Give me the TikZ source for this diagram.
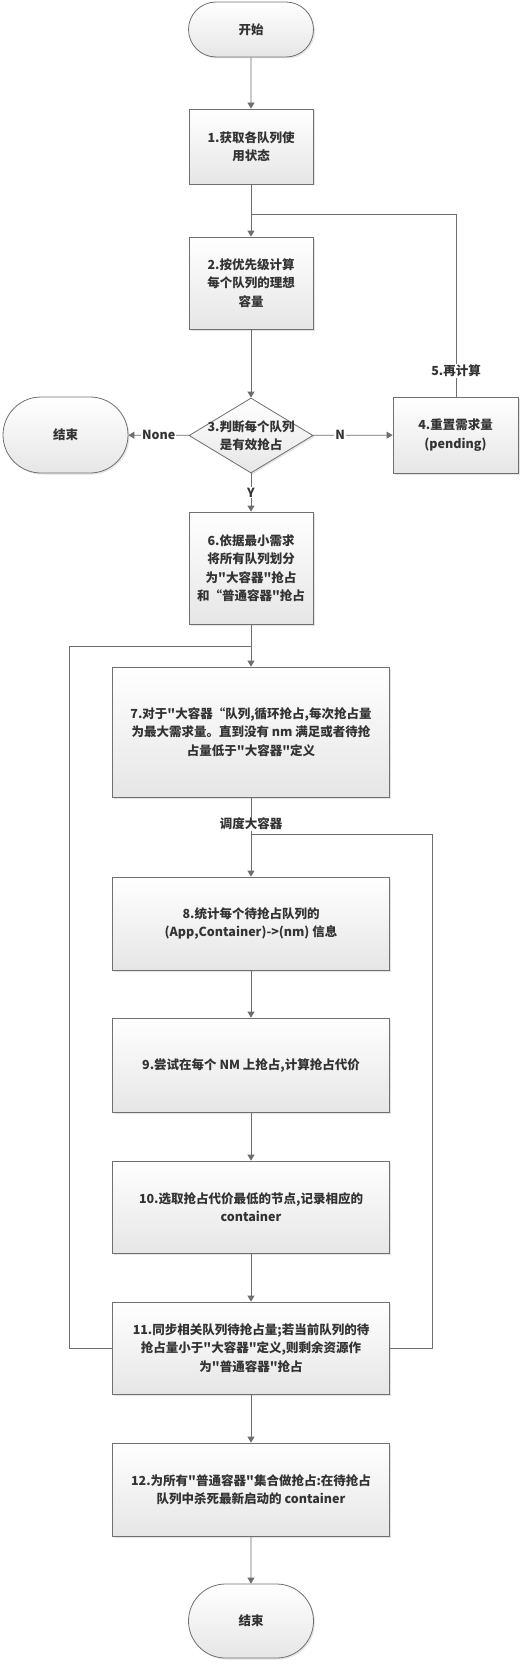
\documentclass[tikz,border=0pt]{standalone}
\usepackage{fontspec}
\newfontfamily\cjkfont{Noto Sans CJK SC}
\usetikzlibrary{arrows.meta,shapes.geometric,shapes.misc,shadows}
\definecolor{ln}{HTML}{6E6E6E}
\definecolor{bd}{HTML}{707070}
\definecolor{tx}{HTML}{333333}
\definecolor{bt}{HTML}{E6E6E6}
\tikzset{
  shade/.style={draw=bd, line width=0.8pt, top color=white, bottom color=bt,
    drop shadow={shadow xshift=1.5pt, shadow yshift=-1.5pt, opacity=0.3, fill=black!35}},
  fnt/.style={font=\cjkfont\fontsize{12.5}{18.5}\selectfont\bfseries, text=tx},
  box/.style={shade, fnt, rectangle, minimum width=124pt, align=center, inner sep=0pt},
  widebox/.style={box, minimum width=277pt},
  term/.style={box, rounded rectangle, minimum width=125pt},
  diam/.style={shade, diamond, minimum width=124pt, minimum height=75pt, inner sep=0pt},
  lab/.style={fnt, fill=white, inner sep=1pt},
  conn/.style={draw=ln, line width=0.8pt},
  arr/.style={conn, -{Triangle[length=6pt,width=7pt]}},
}
\begin{document}
\begin{tikzpicture}[x=1pt,y=-1pt]
\useasboundingbox (0,0) rectangle (523,1664);
\fill[white] (0,0) rectangle (523,1664);
% nodes
\node[term, minimum height=55pt] (st) at (251,29.5) {开始};
\node[box, minimum height=75pt] (b1) at (251,146.5) {1.获取各队列使\\用状态};
\node[box, minimum height=92pt] (b2) at (251,283) {2.按优先级计算\\每个队列的理想\\容量};
\node[diam] (d3) at (251,435.5) {};
\node[fnt, align=center, inner sep=0pt] (d3t) at (d3) {3.判断每个队列\\是有效抢占};
\node[term, minimum height=76pt] (e1) at (65.5,435) {结束};
\node[box, minimum width=125pt, minimum height=76pt] (b4) at (455.5,435) {4.重置需求量\\(pending)};
\node[box, minimum height=112pt] (b6) at (251,568) {6.依据最小需求\\将所有队列划分\\为"大容器"抢占\\和“普通容器"抢占};
\node[widebox, minimum height=130pt] (b7) at (251,732) {7.对于"大容器“队列,循环抢占,每次抢占量\\为最大需求量。直到没有 nm 满足或者待抢\\占量低于"大容器"定义};
\node[widebox, minimum height=93pt] (b8) at (251,923.5) {8.统计每个待抢占队列的\\(App,Container)->(nm) 信息};
\node[widebox, minimum height=94pt] (b9) at (251,1065) {9.尝试在每个 NM 上抢占,计算抢占代价};
\node[widebox, minimum height=92pt] (b10) at (251,1207) {10.选取抢占代价最低的节点,记录相应的\\container};
\node[widebox, minimum height=92pt] (b11) at (251,1348) {11.同步相关队列待抢占量;若当前队列的待\\抢占量小于"大容器"定义,则剩余资源作\\为"普通容器"抢占};
\node[widebox, minimum height=93pt] (b12) at (251,1489.5) {12.为所有"普通容器"集合做抢占:在待抢占\\队列中杀死最新启动的 container};
\node[term, minimum height=74pt] (en) at (251,1621) {结束};
% junction coordinates
\coordinate (j1) at (251,214);
\coordinate (k1) at (456,214);
\coordinate (j2) at (251,646);
\coordinate (k2) at (69,646);
\coordinate (j3) at (251,834);
\coordinate (k3) at (432,834);
% connectors
\draw[arr] (st) -- (b1);
\draw[arr] (b1) -- (b2);
\draw[arr] (b2) -- (d3);
\draw[arr] (d3) -- node[lab]{None} (e1);
\draw[arr] (d3) -- node[lab, pos=0.34]{N} (b4);
\draw[arr] (d3) -- node[lab]{Y} (b6);
\draw[conn] (b4.north -| k1) -- node[lab, pos=0.142]{5.再计算} (k1) -- (j1);
\draw[arr] (b6) -- (b7);
\draw[conn] (b11.west) -| (k2) -- (j2);
\draw[conn] (b7) -- node[lab, pos=0.73]{调度大容器} (j3);
\draw[conn] (b11.east) -| (k3) -- (j3);
\draw[arr] (j3) -- (b8);
\draw[arr] (b8) -- (b9);
\draw[arr] (b9) -- (b10);
\draw[arr] (b10) -- (b11);
\draw[arr] (b11) -- (b12);
\draw[arr] (b12) -- (en);
\end{tikzpicture}
\end{document}
